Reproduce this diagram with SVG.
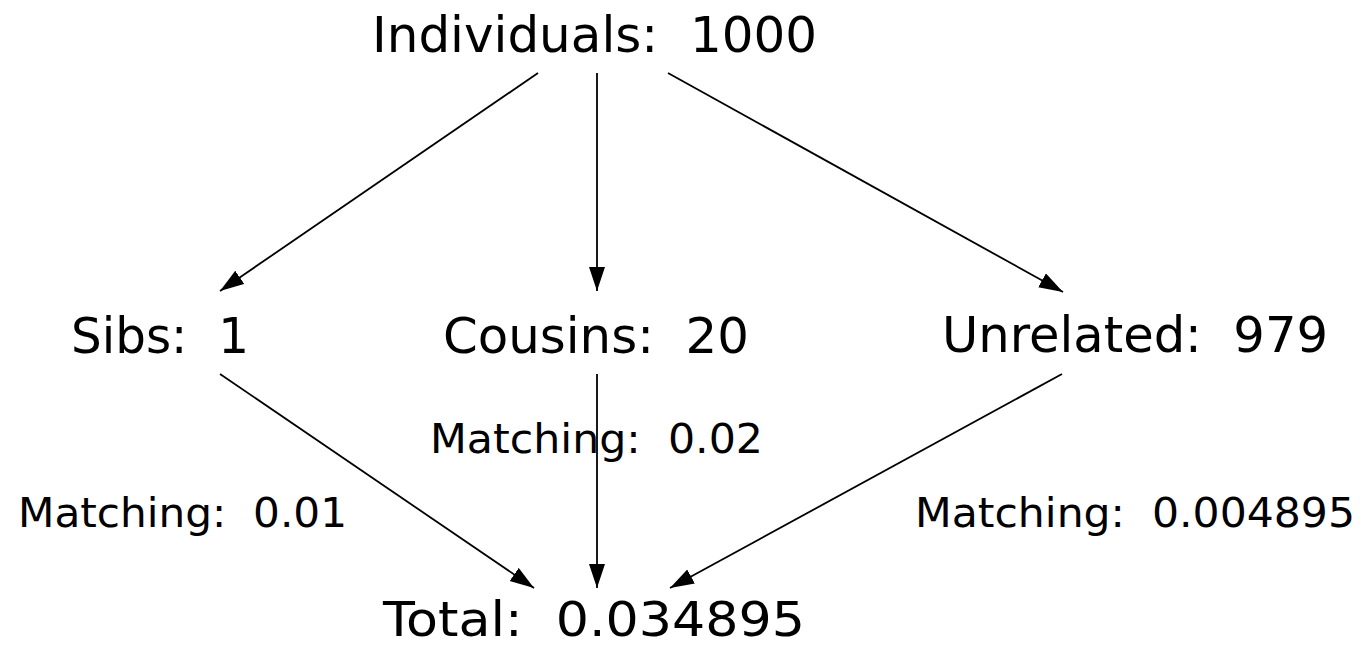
<svg xmlns="http://www.w3.org/2000/svg" width="1362" height="648" viewBox="0 0 1362 648">
<style>
text{font-family:"DejaVu Sans","Liberation Sans",sans-serif;fill:#000}
.big{font-size:50px}
.small{font-size:40px}
.edge{stroke:#000;stroke-width:1.8;fill:none;marker-end:url(#ah)}
</style>
<defs>
<marker id="ah" markerUnits="userSpaceOnUse" markerWidth="26" markerHeight="18" refX="24" refY="8" orient="auto">
<path d="M0,0 L24,8 L0,16 Z" fill="#000"/>
</marker>
</defs>
<rect width="1362" height="648" fill="#fff"/>
<g id="connectors">
<line class="edge" x1="538" y1="73" x2="220" y2="291"/>
<line class="edge" x1="597" y1="73" x2="597" y2="291"/>
<line class="edge" x1="668" y1="73" x2="1063" y2="292"/>
<line class="edge" x1="220" y1="374" x2="534" y2="588"/>
<line class="edge" x1="597" y1="374" x2="597" y2="588"/>
<line class="edge" x1="1062" y1="374" x2="670" y2="588"/>
</g>
<g id="individuals"><text class="big" x="372" y="52" textLength="445" lengthAdjust="spacingAndGlyphs" xml:space="preserve">Individuals:  1000</text></g>
<g id="sibs"><text class="big" x="71" y="353" textLength="178" lengthAdjust="spacingAndGlyphs" xml:space="preserve">Sibs:  1</text></g>
<g id="cousins"><text class="big" x="443" y="353" textLength="306" lengthAdjust="spacingAndGlyphs" xml:space="preserve">Cousins:  20</text></g>
<g id="unrelated"><text class="big" x="942" y="352" textLength="386" lengthAdjust="spacingAndGlyphs" xml:space="preserve">Unrelated:  979</text></g>
<g id="match-cousins"><text class="small" x="430" y="453" textLength="333" lengthAdjust="spacingAndGlyphs" xml:space="preserve">Matching:  0.02</text></g>
<g id="match-sibs"><text class="small" x="18" y="527" textLength="329" lengthAdjust="spacingAndGlyphs" xml:space="preserve">Matching:  0.01</text></g>
<g id="match-unrelated"><text class="small" x="915" y="527" textLength="440" lengthAdjust="spacingAndGlyphs" xml:space="preserve">Matching:  0.004895</text></g>
<g id="total"><text x="383" y="636" style="font-size:48px" textLength="422" lengthAdjust="spacingAndGlyphs" xml:space="preserve">Total:  0.034895</text></g>
</svg>
